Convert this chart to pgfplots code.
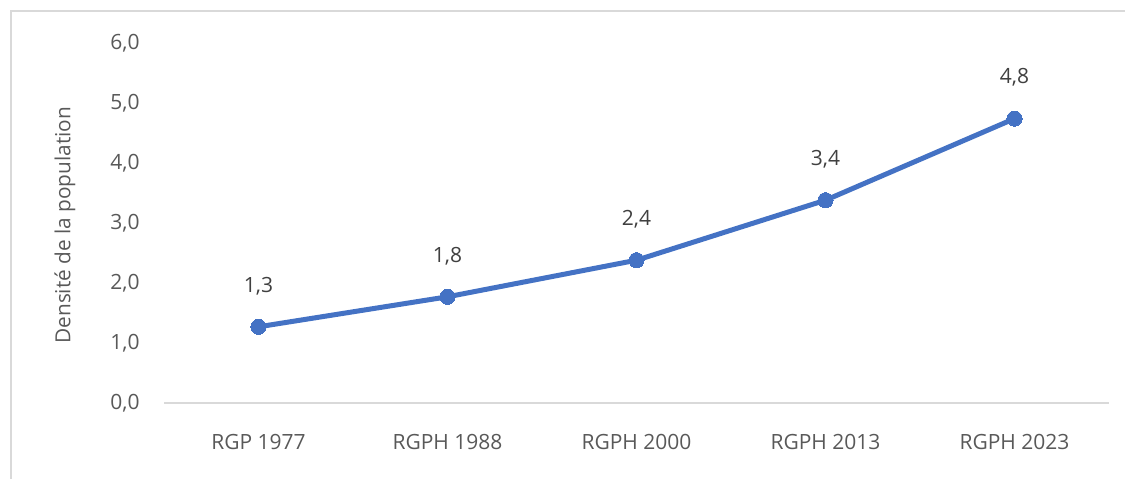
\documentclass[border=0pt]{standalone}
\usepackage{pgfplots}
\pgfplotsset{compat=1.18}
\usepackage{fontspec}
\setmainfont{Open Sans}
\definecolor{lineblue}{HTML}{4472C4}
\definecolor{txtgray}{HTML}{595959}
\definecolor{lblgray}{HTML}{404040}
\definecolor{framegray}{HTML}{D9D9D9}
\begin{document}
\begin{tikzpicture}
\useasboundingbox (0,0) rectangle (562.5pt,239pt);
\draw[framegray, line width=0.75pt] (5.5pt,-2pt) -- (5.5pt,233.5pt) -- (566pt,233.5pt);
\begin{axis}[
  at={(82pt,37.5pt)}, anchor=south west,
  scale only axis, width=472.5pt, height=180pt,
  xmin=-0.5, xmax=4.5, ymin=0, ymax=6,
  xtick={0,1,2,3,4},
  xticklabels={RGP 1977, RGPH 1988, RGPH 2000, RGPH 2013, RGPH 2023},
  ytick={0,1,2,3,4,5,6},
  axis x line*=bottom, axis y line*=left,
  x axis line style={-, framegray, line width=0.75pt},
  y axis line style={draw=none},
  major tick length=0pt,
  ticklabel style={font=\fontsize{10.5}{12}\selectfont, text=txtgray},
  xticklabel style={anchor=north, inner sep=0pt, yshift=-15.5pt},
  yticklabel style={anchor=east, inner sep=0pt, xshift=-12pt},
  /pgf/number format/.cd, fixed, fixed zerofill, precision=1, use comma, assume math mode=true,
  /pgfplots/.cd,
  ylabel={Densité de la population},
  ylabel style={at={(axis description cs:-0.1048,0.494)}, anchor=center, font=\fontsize{10.4}{12}\selectfont, text=txtgray},
  clip=false,
  nodes near coords, point meta=explicit symbolic,
  nodes near coords style={anchor=center, yshift=20.5pt, font=\fontsize{10.5}{12}\selectfont, text=lblgray},
]
\addplot[lineblue, line width=2.5pt, mark=*, mark size=3.8pt, mark options={solid, fill=lineblue, draw=lineblue, line width=0pt}] table[x=x, y=y, meta=lab] {
x y lab
0 1.27 1,3
1 1.77 1,8
2 2.38 2,4
3 3.38 3,4
4 4.74 4,8
};
\end{axis}
\end{tikzpicture}
\end{document}
